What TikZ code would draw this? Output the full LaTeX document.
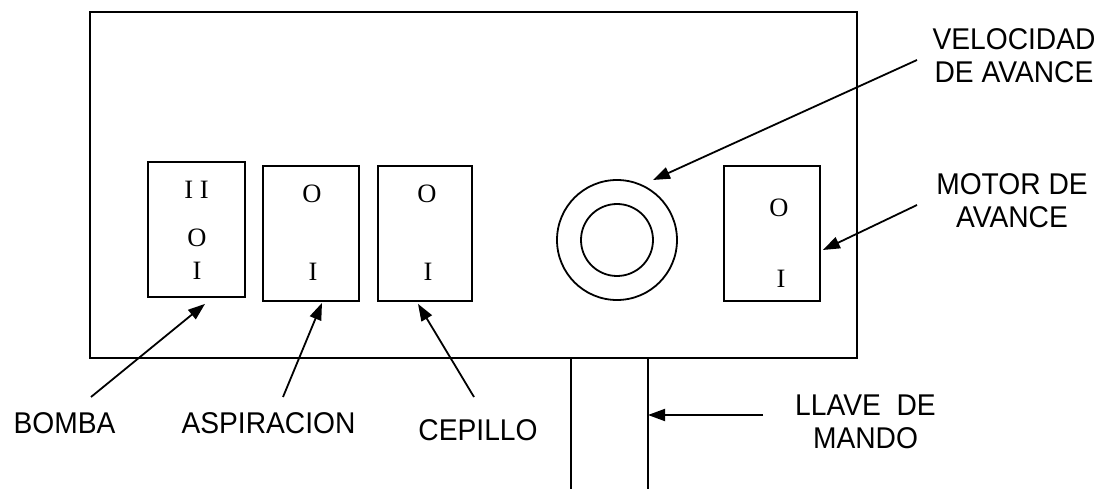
\documentclass[tikz,border=0pt]{standalone}
\usepackage{fontspec}
\setmainfont{Liberation Serif}
\newfontfamily\arialf[FakeStretch=0.94]{Liberation Sans}
\usetikzlibrary{arrows.meta,calc}
\begin{document}
\begin{tikzpicture}[x=1pt,y=-1pt,
  line width=1.8pt,
  sw/.style={draw, rectangle, minimum width=96pt, minimum height=135pt, inner sep=0pt},
  sym/.style={inner sep=0pt, font=\fontsize{26.5}{26.5}\selectfont},
  lbl/.style={inner sep=0pt, align=center, font=\arialf\fontsize{30}{33}\selectfont},
  arr/.style={-{Triangle[length=17pt,width=12pt]}, line width=1.8pt}]
\useasboundingbox (0,0) rectangle (1101,489);
% panel
\node[draw, rectangle, minimum width=767pt, minimum height=346pt, inner sep=0pt] (panel) at (473.5,185) {};
% stem (llave de mando)
\coordinate (stemL) at (571,358);
\coordinate (stemR) at (648,358);
\coordinate (stemLb) at (571,489);
\coordinate (stemRb) at (648,489);
\draw (stemL) -- (stemLb);
\draw (stemR) -- (stemRb);
% switches
\node[sw, minimum width=97pt] (bomba) at (196.5,229.5) {};
\node[sw] (aspir) at (311,233.5) {};
\node[sw, minimum width=94pt] (cepillo) at (425,233.5) {};
\node[sw] (motor) at (772,233.5) {};
% symbols
\node[sym] (b2) at (196.5,189.5) {I I};
\node[sym] (b0) at (197,237.5) {O};
\node[sym] (b1) at (197,270.5) {I};
\node[sym] (a0) at (312,194) {O};
\node[sym] (a1) at (313,271.5) {I};
\node[sym] (c0) at (427,194) {O};
\node[sym] (c1) at (428,271.5) {I};
\node[sym] (m0) at (779,208) {O};
\node[sym] (m1) at (781,279) {I};
% knob
\node[draw, circle, minimum size=120pt, inner sep=0pt] (knob) at (617,240) {};
\node[draw, circle, minimum size=72pt, inner sep=0pt] (knobin) at (617,240) {};
% labels
\node[lbl] (lvel) at (1014,55.5) {VELOCIDAD\\DE AVANCE};
\node[lbl] (lmot) at (1012,201) {MOTOR DE\\AVANCE};
\node[lbl] (lllave) at (865.5,421.5) {LLAVE\ \ DE\\MANDO};
\node[lbl] (lbomba) at (64.5,423.5) {BOMBA};
\node[lbl] (laspir) at (268.5,423.5) {ASPIRACION};
\node[lbl] (lcep) at (478,430.5) {CEPILLO};
% arrow starts
\coordinate (sbomba) at (91,397);
\coordinate (saspir) at (283,397);
\coordinate (scep) at (474,397);
\coordinate (smot) at (917,205);
\coordinate (svel) at (917,60);
\coordinate (sllave) at (763,415);
% arrows
\draw[arr] (sbomba) -- ([shift={(8.5,6)}]bomba.south);
\draw[arr] (saspir) -- ([shift={(11,1)}]aspir.south);
\draw[arr] (scep) -- ([shift={(-7,2)}]cepillo.south);
\draw[arr] (smot) -- ([shift={(2,16.5)}]motor.east);
\draw[arr] (svel) -- ($(knob.center)+(36,-60)$);
\draw[arr] (sllave) -- ($(stemR)+(0,57)$);
\end{tikzpicture}
\end{document}
